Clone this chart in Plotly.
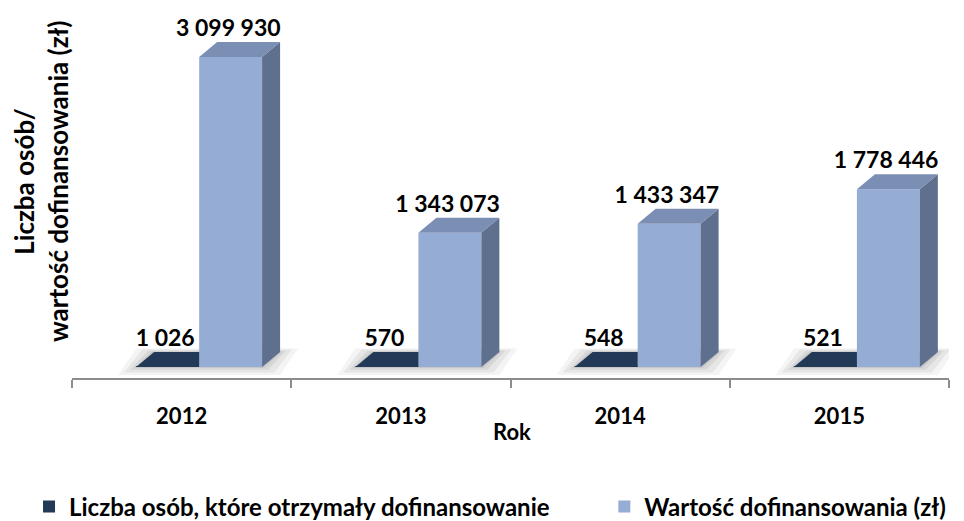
import plotly.graph_objects as go

years = ["2012", "2013", "2014", "2015"]
people = [1026, 570, 548, 521]
funding = [3099930, 1343073, 1433347, 1778446]
series_names = ["Liczba osób, które otrzymały dofinansowanie", "Wartość dofinansowania (zł)"]

# style / geometry constants (depth effect in data units)
PX_X = 1 / 219.25          # x units per pixel
PX_Y = 10000               # y units per pixel
DX = 18 * PX_X
DY = 15 * PX_Y
DARK_L, DARK_R = -0.2075, 0.08
BLUE_L, BLUE_R = 0.08, 0.367

C_DARK = "#223957"
C_FRONT = "#95ACD4"
C_SIDE = "#5F6F8E"
C_TOP = "#7B8EB3"

def fmt(v):
    return f"{v:,}".replace(",", " ")

xs = list(range(len(years)))
FONT = "Lato, 'Open Sans', sans-serif"

fig = go.Figure()

# front faces (also legend entries)
fig.add_trace(go.Bar(x=[c + (DARK_L + DARK_R) / 2 for c in xs], y=people, width=DARK_R - DARK_L,
                     marker=dict(color=C_DARK, line=dict(width=0)), name=series_names[0],
                     hoverinfo="skip", legend="legend"))
fig.add_trace(go.Bar(x=[c + (BLUE_L + BLUE_R) / 2 for c in xs], y=funding, width=BLUE_R - BLUE_L,
                     marker=dict(color=C_FRONT, line=dict(width=0)), name=series_names[1],
                     hoverinfo="skip", legend="legend2"))

# dark top faces (visible part, up to blue bar)
px_, py_ = [], []
for c, v in zip(xs, people):
    x0, x1 = c + DARK_L, c + DARK_R
    px_ += [x0, x1, x1, x0 + DX, x0, None]
    py_ += [v, v, v + DY, v + DY, v, None]
fig.add_trace(go.Scatter(x=px_, y=py_, mode="lines", fill="toself", fillcolor=C_DARK,
                         line=dict(width=0, color=C_DARK), showlegend=False, hoverinfo="skip"))

# blue side faces
sx, sy = [], []
for c, v in zip(xs, funding):
    x1 = c + BLUE_R
    sx += [x1, x1 + DX, x1 + DX, x1, x1, None]
    sy += [0, DY, v + DY, v, 0, None]
fig.add_trace(go.Scatter(x=sx, y=sy, mode="lines", fill="toself", fillcolor=C_SIDE,
                         line=dict(width=0, color=C_SIDE), showlegend=False, hoverinfo="skip"))

# blue top faces
tx, ty = [], []
for c, v in zip(xs, funding):
    x0, x1 = c + BLUE_L, c + BLUE_R
    tx += [x0, x1, x1 + DX, x0 + DX, x0, None]
    ty += [v, v, v + DY, v + DY, v, None]
fig.add_trace(go.Scatter(x=tx, y=ty, mode="lines", fill="toself", fillcolor=C_TOP,
                         line=dict(width=0, color=C_TOP), showlegend=False, hoverinfo="skip"))

# floor shadows (below traces)
shapes = []
for c in xs:
    for grow, op in [(18, 0.08), (12, 0.10), (6, 0.12), (2, 0.15)]:
        g = grow * PX_X
        x0 = c + DARK_L - g
        x1 = c + BLUE_R + DX + g
        y0 = -grow * 0.45 * PX_Y
        y1 = DY + grow * 0.2 * PX_Y
        path = f"M{x0},{y0} L{x1 - DX},{y0} L{x1},{y1} L{x0 + DX},{y1} Z"
        shapes.append(dict(type="path", path=path, xref="x", yref="y", layer="below",
                           fillcolor=f"rgba(110,110,110,{op})", line=dict(width=0)))

# data labels
lab_font = dict(size=23, color="black", family=FONT, weight="bold")
fig.add_trace(go.Scatter(x=[c - 0.075 for c in xs], y=[v + DY for v in people],
                         text=[fmt(v) for v in people], mode="text", textposition="top center",
                         textfont=lab_font, showlegend=False, hoverinfo="skip", cliponaxis=False))
fig.add_trace(go.Scatter(x=[c + 0.213 for c in xs], y=[v + DY for v in funding],
                         text=[fmt(v) for v in funding], mode="text", textposition="top center",
                         textfont=lab_font, showlegend=False, hoverinfo="skip", cliponaxis=False))

leg_font = dict(size=24, weight="bold", family=FONT, color="black")
# page body has an 8px default margin: figure is 956x513 so it fills the 964x521 window
fig.update_layout(
    width=956, height=513,
    margin=dict(l=64, r=15, t=22, b=143, autoexpand=False),
    paper_bgcolor="white", plot_bgcolor="white",
    barmode="overlay",
    font=dict(family=FONT, color="black"),
    shapes=shapes,
    xaxis=dict(range=[-0.5, 3.5], tickvals=xs, ticktext=years, ticks="",
               tickfont=dict(size=22, weight="bold"), ticklabelstandoff=18,
               showline=True, linecolor="#8C8C8C", linewidth=2, showgrid=False, zeroline=False,
               minor=dict(tickvals=[-0.5, 0.5, 1.5, 2.5, 3.5], ticks="outside", ticklen=8,
                          tickcolor="#8C8C8C", tickwidth=2, showgrid=False)),
    yaxis=dict(range=[-110000, 3370000], showticklabels=False, showgrid=False, zeroline=False,
               showline=False, ticks=""),
    legend=dict(orientation="h", x=-0.049, xanchor="left", y=-0.3707, yanchor="middle",
                font=leg_font, bgcolor="rgba(0,0,0,0)"),
    legend2=dict(orientation="h", x=0.607, xanchor="left", y=-0.3707, yanchor="middle",
                 font=leg_font, bgcolor="rgba(0,0,0,0)"),
    annotations=[
        dict(text="Liczba osób/<br>wartość dofinansowania (zł)", textangle=-90, x=-0.0353, y=0.563,
             xref="paper", yref="paper", xanchor="center", yanchor="middle", showarrow=False,
             font=dict(size=26, weight="bold")),
        dict(text="Rok", x=0.502, y=-0.155, xref="paper", yref="paper", xanchor="center",
             yanchor="middle", showarrow=False, font=dict(size=22, weight="bold")),
    ],
)

fig.write_html("out.html")
